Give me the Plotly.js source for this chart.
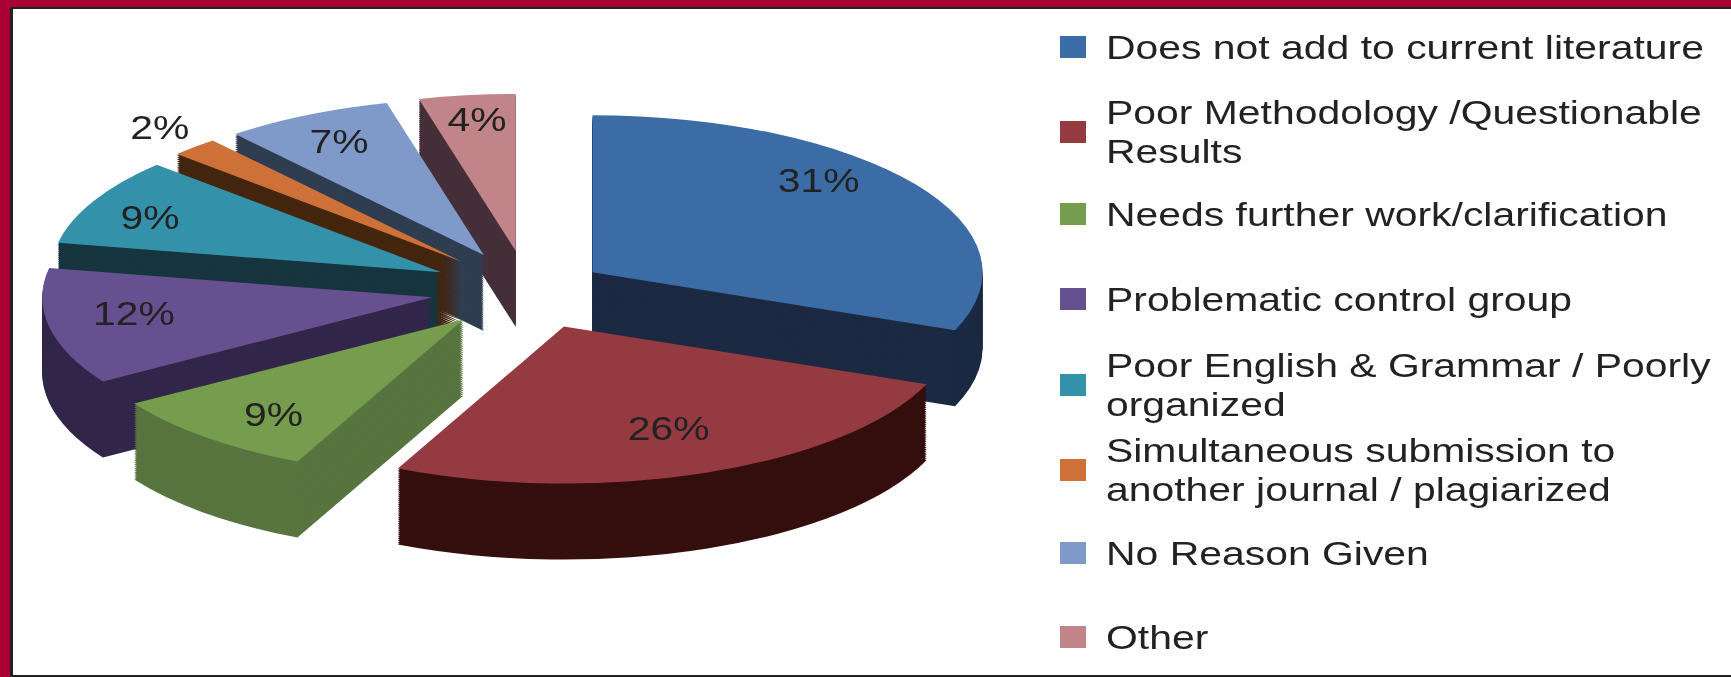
<!DOCTYPE html>
<html>
<head>
<meta charset="utf-8">
<script src="https://cdn.plot.ly/plotly-3.0.1.min.js"></script>
<style>
html,body{margin:0;padding:0;background:#fff;overflow:hidden}
#chart{position:absolute;left:0;top:0;width:1731px;height:677px;filter:blur(0.7px)}
#frame{position:absolute;left:0;top:0;width:1731px;height:677px;box-sizing:border-box;border-top:7px solid #A80032;border-left:10px solid #A80032;pointer-events:none}
#inner{width:100%;height:100%;box-sizing:border-box;border-top:2px solid #222;border-left:3px solid #222;border-bottom:2px solid #222}
</style>
</head>
<body>
<div id="chart"></div>
<div id="frame"><div id="inner"></div></div>
<script>
const categories = [
  "Does not add to current literature",
  "Poor Methodology /Questionable<br>Results",
  "Needs further work/clarification",
  "Problematic control group",
  "Poor English &amp; Grammar / Poorly<br>organized",
  "Simultaneous submission to<br>another journal / plagiarized",
  "No Reason Given",
  "Other"
];
const shares = [31, 26, 9, 12, 9, 2, 7, 4];
const faceColors = ["#3C6CA6","#953A40","#769C4E","#67508F","#3491AA","#CE7139","#7F9AC9","#C08489"];
const wallColors = ["#1B2A42","#340F0E","#587540","#32264A","#17353F","#44260F","#2F3D50","#45303A"];
const labelPositions = ["inside","inside","inside","inside","inside","outside","inside","inside"];
const slicePull = [0.2, 0.25, 0.25, 0.25, 0.25, 0.25, 0.25, 0.25];
const labelNudgeX = [50, 22, 12, -18, -19, -10, 1, 5];
const labelNudgeY = [-35, 26, 11, 3, 9, -8, 10, 15];

const W = 1731, H = 677;
const R = 200, MAXPULL = 0.25;
const SX = 390 / R, SY = 157 / R;
const CX = 528, CY = 290;
const DEPTH = 76 / SY;
const LAYERS = 40;
const dw = 2 * R * (1 + MAXPULL) / W, dh = 2 * R * (1 + MAXPULL) / H;
const baseCx = R * (1 + MAXPULL), baseCy = R * (1 + MAXPULL);

const traces = [];
for (let i = LAYERS; i >= 1; i--) {
  const off = (DEPTH * i / LAYERS) / H;
  traces.push({
    type: "pie", sort: false, direction: "clockwise", rotation: 0,
    labels: categories.map(c => c + " side"), values: shares,
    marker: {colors: wallColors, line: {width: 0}},
    pull: slicePull, textinfo: "none", showlegend: false, hoverinfo: "skip",
    domain: {x: [0, dw], y: [1 - dh - off, 1 - off]}
  });
}
traces.push({
  type: "pie", sort: false, direction: "clockwise", rotation: 0,
  labels: categories, values: shares,
  marker: {colors: faceColors, line: {width: 0}},
  pull: slicePull, textinfo: "percent", textposition: labelPositions,
  insidetextorientation: "horizontal",
  insidetextfont: {family: "Liberation Sans", size: 12, color: "#222"},
  outsidetextfont: {family: "Liberation Sans", size: 12, color: "#222"},
  domain: {x: [0, dw], y: [1 - dh, 1]}
});

const layout = {
  width: W, height: H, margin: {l: 0, r: 0, t: 0, b: 0},
  paper_bgcolor: "#fff", showlegend: true,
  legend: {x: 0.6, y: 1, xanchor: "left", yanchor: "top",
    font: {family: "Liberation Sans", size: 33, color: "#222"},
    bgcolor: "rgba(0,0,0,0)"}
};

const legendY = [47, 132, 214, 299, 385, 470, 553, 637];
const LABEL_PX = 33.5, LABEL_KX = 1.22, LEGEND_KX = 1.24;

Plotly.newPlot("chart", traces, layout, {displayModeBar: false}).then(gd => {
  const pl = gd.querySelector(".pielayer");
  pl.setAttribute("transform", `translate(${CX - SX * baseCx},${CY - SY * baseCy}) scale(${SX},${SY})`);
  gd.querySelectorAll("text.slicetext").forEach((t, i) => {
    const tf = t.getAttribute("transform") || "";
    const m = tf.match(/^\s*translate\(([^,)]+)[, ]+([^)]+)\)\s*(?:scale\(([^)]+)\))?(.*)$/);
    if (!m) return;
    const k = LABEL_PX / 12;
    const x = parseFloat(m[1]) + labelNudgeX[i] / SX;
    const y = parseFloat(m[2]) + labelNudgeY[i] / SY;
    t.setAttribute("transform", `translate(${x},${y}) scale(${k * LABEL_KX / SX},${k / SY})${m[4]}`);
  });
  const lg = gd.querySelector(".legend");
  lg.setAttribute("transform", "translate(0,0)");
  const sb = lg.querySelector(".scrollbox");
  sb.setAttribute("transform", "translate(0,0)");
  sb.removeAttribute("clip-path");
  sb.style.clipPath = "none";
  lg.querySelectorAll(".traces").forEach((tr, i) => {
    tr.setAttribute("transform", `translate(0,${legendY[i]})`);
    const pie = tr.querySelector(".legendpie");
    if (pie) pie.setAttribute("transform", "translate(1073,0) scale(2.17,1.83)");
    const tx = tr.querySelector(".legendtext");
    tx.querySelectorAll("tspan.line").forEach((s, j) => { if (j > 0) s.setAttribute("dy", "40px"); });
    const b = tx.getBBox();
    tx.setAttribute("transform", `translate(${1106 - b.x * LEGEND_KX},${-(b.y + b.height / 2)}) scale(${LEGEND_KX},1)`);
  });
});
</script>
</body>
</html>
